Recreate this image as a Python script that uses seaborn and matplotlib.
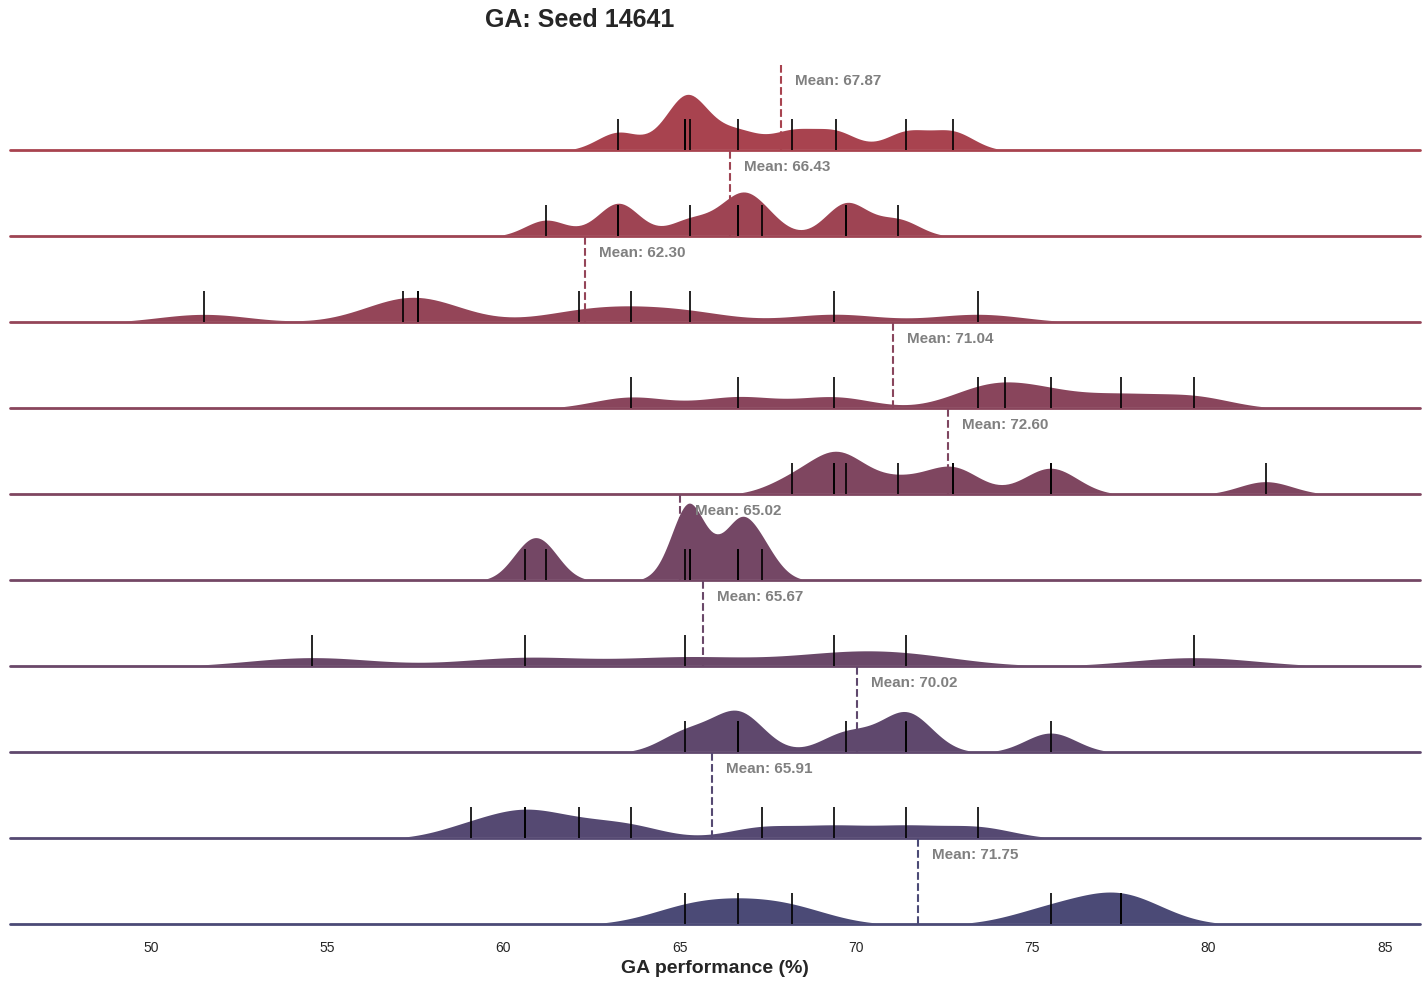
import matplotlib
matplotlib.use("Agg")
import matplotlib.pyplot as plt
import matplotlib.colors as mcolors
import matplotlib.transforms as mtrans
import numpy as np
import seaborn as sns

runs = [
    [63.26, 65.16, 65.16, 65.30, 66.66, 68.19, 69.42, 71.43, 72.74],
    [61.21, 63.26, 63.26, 65.30, 66.66, 66.66, 67.34, 69.73, 69.73, 71.20],
    [51.50, 57.15, 57.58, 57.58, 62.15, 63.62, 65.30, 69.39, 73.47],
    [63.62, 66.66, 69.39, 73.47, 74.24, 75.52, 77.53, 79.58],
    [68.19, 69.39, 69.39, 69.73, 71.20, 72.74, 72.74, 75.52, 75.52, 81.62],
    [60.62, 61.21, 65.16, 65.30, 65.30, 66.66, 66.66, 67.34],
    [54.57, 60.62, 65.16, 69.39, 71.43, 79.58],
    [65.16, 66.66, 66.66, 69.73, 71.43, 71.43, 75.52],
    [59.08, 60.62, 60.62, 62.15, 63.62, 67.34, 69.39, 71.43, 73.47],
    [65.16, 66.66, 68.19, 75.52, 77.53, 77.53],
]
means = [67.87, 66.43, 62.30, 71.04, 72.60, 65.02, 65.67, 70.02, 65.91, 71.75]
title = "GA: Seed 14641"

sns.set_theme(style="white")
plt.rcParams['font.family'] = ['Liberation Sans', 'DejaVu Sans']
cmap = mcolors.LinearSegmentedColormap.from_list("ridge", ["#a8434f", "#4b4a76"])
colors = [cmap(i / (len(runs) - 1)) for i in range(len(runs))]

fig = plt.figure(figsize=(14.28, 9.86), dpi=100)
left, width = 10 / 1428, 1410 / 1428
row_h = 86 / 986
base0 = 1 - 924 / 986
n = len(runs)
axes = []
for i, vals in enumerate(runs):
    bottom = base0 + (n - 1 - i) * row_h
    ax = fig.add_axes([left, bottom, width, row_h])
    ax.patch.set_alpha(0)
    sns.kdeplot(x=vals, ax=ax, fill=True, bw_adjust=0.3, color=colors[i],
                alpha=1, linewidth=1.5, edgecolor="white", clip_on=False)
    ax.axhline(0, color=colors[i], lw=2, clip_on=False)
    tr = mtrans.blended_transform_factory(ax.transData, ax.transAxes)
    ax.vlines(vals, 0, 0.36, color="black", lw=1.2, transform=tr)
    ax.vlines(means[i], 0, 1.02, color=colors[i], lw=1.5, ls="--", transform=tr, clip_on=False)
    ax.text(means[i] + 0.4, 0.8, f"Mean: {means[i]:.2f}", transform=tr, color="gray",
            fontsize=11, fontweight="bold", va="center")
    ax.set_xlim(46, 86)
    ax.set_ylabel("")
    ax.set_yticks([])
    sns.despine(ax=ax, left=True, bottom=True)
    axes.append(ax)

ymax = max(a.get_ylim()[1] for a in axes)
for a in axes:
    a.set_ylim(0, ymax * 1.05)
for a in axes[:-1]:
    a.set_xticks([])
axes[-1].set_xticks(range(50, 86, 5))
axes[-1].tick_params(axis="x", labelsize=10, pad=6)
axes[-1].set_xlabel("GA performance (%)", fontsize=14, fontweight="bold")
fig.text(580 / 1428, 1 - 20 / 986, title, ha="center", va="center", fontsize=18, fontweight="bold")
fig.savefig("out.png", dpi=100)
